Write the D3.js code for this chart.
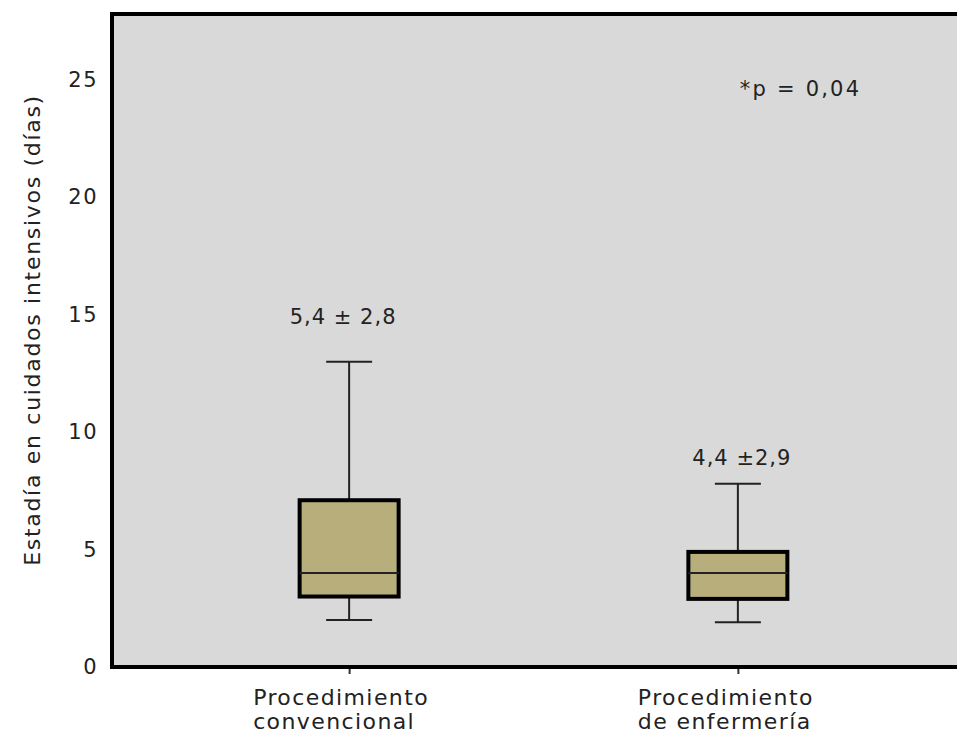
<!DOCTYPE html>
<html>
<head>
<meta charset="utf-8">
<script src="https://cdn.jsdelivr.net/npm/d3@7"></script>
<style>
  body { margin: 0; background: #fff; }
  text { font-family: "DejaVu Sans", Verdana, sans-serif; fill: #222; letter-spacing: 1px; }
</style>
</head>
<body>
<svg id="chart"></svg>
<script>
// Data
var categories = ["Procedimiento convencional", "Procedimiento de enfermería"];
var labelLines = [["Procedimiento", "convencional"], ["Procedimiento", "de enfermería"]];
var whiskerLow = [2, 1.9];
var q1 = [3, 2.9];
var medians = [4, 4];
var q3 = [7.1, 4.9];
var whiskerHigh = [13, 7.8];
var meanLabels = ["5,4 \u00b1 2,8", "4,4 \u00b12,9"];
var meanLabelAt = [14.6, 8.6];
var yTicks = [0, 5, 10, 15, 20, 25];
var pLabel = "*p = 0,04";
var pLabelAt = 24.3;

var w = 957;
var h = 737;
var plotLeft = 112, plotTop = 14, plotRight = 975, plotBottom = 667;

var svg = d3.select("#chart")
    .attr("width", w)
    .attr("height", h);

var xScale = d3.scalePoint()
    .domain(categories)
    .range([plotLeft, plotRight])
    .padding(0.61);

var yScale = d3.scaleLinear()
    .domain([0, 27.8])
    .range([plotBottom, plotTop]);

var boxW = 99, capW = 46;

// plot background
svg.append("rect")
    .attr("x", plotLeft).attr("y", plotTop)
    .attr("width", plotRight - plotLeft).attr("height", plotBottom - plotTop)
    .attr("fill", "#d9d9d9");

// y axis: labels only
var yAxis = d3.axisLeft(yScale).tickValues(yTicks).tickSize(0).tickPadding(14);
var gy = svg.append("g")
    .attr("transform", "translate(" + plotLeft + ",0)")
    .call(yAxis);
gy.select(".domain").remove();
gy.selectAll("text")
    .style("font-family", "DejaVu Sans, Verdana, sans-serif")
    .style("font-size", "21px")
    .style("letter-spacing", "1.5px")
    .attr("fill", "#3a3a3a");

// x axis: small ticks, two-line labels
var xAxis = d3.axisBottom(xScale).tickSize(7).tickFormat("");
var gx = svg.append("g")
    .attr("transform", "translate(0," + plotBottom + ")")
    .call(xAxis);
gx.select(".domain").remove();
gx.selectAll("line").attr("stroke", "#333").attr("stroke-width", 2);

categories.forEach(function(c, i) {
    var lx = xScale(c) - 96 + (i === 1 ? -4 : 0);
    var t = svg.append("text")
        .attr("x", lx)
        .attr("y", plotBottom + 38)
        .style("font-size", "22px")
        .style("letter-spacing", "1.4px")
        .attr("fill", "#222");
    labelLines[i].forEach(function(line, j) {
        t.append("tspan")
            .attr("x", lx)
            .attr("dy", j === 0 ? 0 : 24)
            .text(line);
    });
});

// boxes and whiskers
var boxes = svg.append("g");
categories.forEach(function(c, i) {
    var cx = xScale(c);
    boxes.append("line")
        .attr("x1", cx).attr("x2", cx)
        .attr("y1", yScale(whiskerHigh[i])).attr("y2", yScale(q3[i]))
        .attr("stroke", "#222").attr("stroke-width", 2);
    boxes.append("line")
        .attr("x1", cx).attr("x2", cx)
        .attr("y1", yScale(q1[i])).attr("y2", yScale(whiskerLow[i]))
        .attr("stroke", "#222").attr("stroke-width", 2);
    boxes.append("line")
        .attr("x1", cx - capW / 2).attr("x2", cx + capW / 2)
        .attr("y1", yScale(whiskerHigh[i])).attr("y2", yScale(whiskerHigh[i]))
        .attr("stroke", "#222").attr("stroke-width", 2);
    boxes.append("line")
        .attr("x1", cx - capW / 2).attr("x2", cx + capW / 2)
        .attr("y1", yScale(whiskerLow[i])).attr("y2", yScale(whiskerLow[i]))
        .attr("stroke", "#222").attr("stroke-width", 2);
    boxes.append("rect")
        .attr("x", cx - boxW / 2)
        .attr("y", yScale(q3[i]))
        .attr("width", boxW)
        .attr("height", yScale(q1[i]) - yScale(q3[i]))
        .attr("fill", "#b7ae7c")
        .attr("stroke", "#000")
        .attr("stroke-width", 4);
    boxes.append("line")
        .attr("x1", cx - boxW / 2).attr("x2", cx + boxW / 2)
        .attr("y1", yScale(medians[i])).attr("y2", yScale(medians[i]))
        .attr("stroke", "#222").attr("stroke-width", 2);
    svg.append("text")
        .attr("x", cx - 6 + i * 10)
        .attr("y", yScale(meanLabelAt[i]))
        .attr("text-anchor", "middle")
        .style("font-size", "21px")
        .text(meanLabels[i]);
});

// p value
svg.append("text")
    .attr("x", xScale(categories[1]) + 2)
    .attr("y", yScale(pLabelAt))
    .style("font-size", "21px")
    .style("letter-spacing", "2.2px")
    .text(pLabel);

// frame
svg.append("rect")
    .attr("x", plotLeft).attr("y", plotTop)
    .attr("width", plotRight - plotLeft).attr("height", plotBottom - plotTop)
    .attr("fill", "none")
    .attr("stroke", "#000")
    .attr("stroke-width", 4);

// y axis title
svg.append("text")
    .attr("transform", "translate(40,330) rotate(-90)")
    .attr("text-anchor", "middle")
    .style("font-size", "22px")
    .style("letter-spacing", "1.7px")
    .attr("fill", "#333")
    .text("Estadía en cuidados intensivos (días)");
</script>
</body>
</html>
